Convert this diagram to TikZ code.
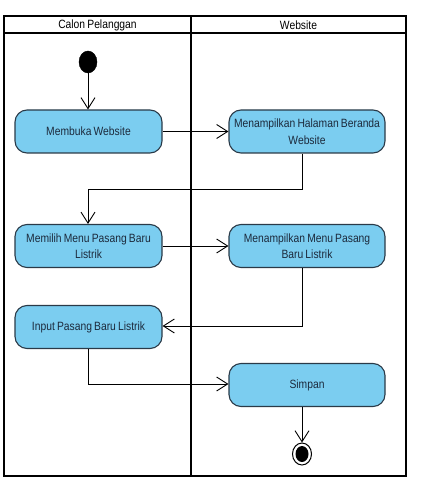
\documentclass[tikz,border=0pt]{standalone}
\usepackage{fontspec}
\setmainfont[FakeStretch=0.86,WordSpace=0.75]{Liberation Sans}
\usetikzlibrary{arrows.meta,shapes.geometric}
\definecolor{actfill}{HTML}{7BCDF0}
\definecolor{actdraw}{HTML}{2A3A48}
\definecolor{acttext}{HTML}{1C2A3C}
\begin{document}
\begin{tikzpicture}[x=1pt,y=-1pt,
  act/.style={draw=actdraw, fill=actfill, line width=1.1pt, rounded corners=12pt,
    minimum width=147pt, minimum height=43pt, align=center, inner sep=1pt,
    font=\fontsize{12}{16.5}\selectfont, text=acttext},
  actwide/.style={act, minimum width=156pt},
  flow/.style={draw=black, line width=0.8pt, -{Straight Barb[length=11pt,width=14pt,line width=0.9pt]}},
  frame/.style={draw=black, line width=2.2pt},
  lane/.style={font=\fontsize{12}{14}\selectfont}]
\useasboundingbox (0,0) rectangle (444,478);
% swimlanes
\draw[frame] (4,16) rectangle (406,476);
\draw[frame] (4,33) -- (406,33);
\draw[frame] (191,16) -- (191,476);
\node[lane] (lane1) at (97.5,25) {Calon Pelanggan};
\node[lane] (lane2) at (298.5,25) {Website};
% nodes
\node[draw=black, fill=black, ellipse, minimum width=18pt, minimum height=22pt, inner sep=0pt] (start) at (88,62) {};
\node[act] (a1) at (88.5,131.5) {Membuka Website};
\node[actwide] (b1) at (307,131.5) {Menampilkan Halaman Beranda\\Website};
\node[act] (a2) at (88.5,246) {Memilih Menu Pasang Baru\\Listrik};
\node[actwide] (b2) at (307,246) {Menampilkan Menu Pasang\\Baru Listrik};
\node[act] (a3) at (88.5,327) {Input Pasang Baru Listrik};
\node[actwide] (b3) at (307,385) {Simpan};
\node[draw=black, line width=1pt, fill=white, ellipse, minimum width=19pt, minimum height=22pt, inner sep=0pt] (end) at (302,454) {};
\node[draw=none, fill=black, ellipse, minimum width=13pt, minimum height=16pt, inner sep=0pt] (endin) at (302,454) {};
% bend points
\coordinate (t1) at (302,189);
\coordinate (t2) at (88,189);
\coordinate (u1) at (302,326);
\coordinate (v1) at (88,384);
% flows
\draw[flow] (start) -- (a1.north -| start);
\draw[flow] (a1.east) -- (b1.west);
\draw[flow] (b1.south -| t1) -- (t1) -- (t2) -- (a2.north -| t2);
\draw[flow] (a2.east) -- (b2.west);
\draw[flow] (b2.south -| u1) -- (u1) -- (a3.east |- u1);
\draw[flow] (a3.south -| v1) -- (v1) -- (b3.west |- v1);
\draw[flow] (b3.south -| end) -- (end.north);
\end{tikzpicture}
\end{document}
